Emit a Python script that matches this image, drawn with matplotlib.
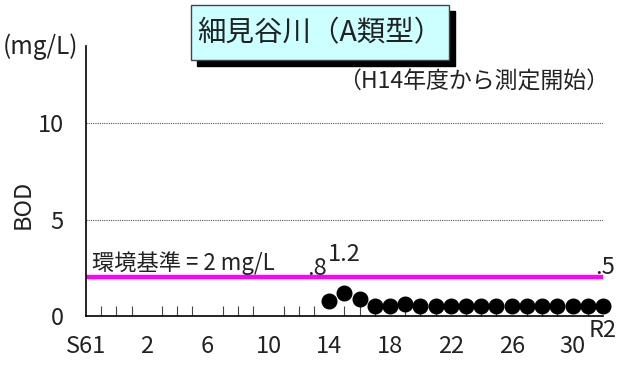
import matplotlib.pyplot as plt
from matplotlib.patches import Rectangle

plt.rcParams['font.family'] = ['Noto Sans CJK JP', 'DejaVu Sans']

years = list(range(2002, 2021))
bod = [0.8, 1.2, 0.9, 0.5, 0.5, 0.6, 0.5, 0.5, 0.5, 0.5, 0.5, 0.5,
       0.5, 0.5, 0.5, 0.5, 0.5, 0.5, 0.5]
standard = 2
label_pos = [1986, 1990, 1994, 1998, 2002, 2006, 2010, 2014, 2018]
label_txt = ["S61", "2", "6", "10", "14", "18", "22", "26", "30"]
point_labels = {2002: ".8", 2003: "1.2", 2020: ".5"}

fig = plt.figure(figsize=(6.19, 3.67), dpi=100)
ax = fig.add_axes([0.139, 0.139, 0.835, 0.736])

ax.plot([1986, 2020], [standard, standard], color="#ff00ff", linewidth=3.2,
        solid_capstyle="butt", zorder=2)
ax.text(1986.4, 2.75, "環境基準 = 2 mg/L", fontsize=16, color="#222222",
        va="center", ha="left")

ax.plot(years, bod, "o", color="black", markersize=10.5, clip_on=False, zorder=3)

offsets = {2002: (-12, 32), 2003: (0, 38), 2020: (2, 39)}
for yr, txt in point_labels.items():
    ax.annotate(txt, (yr, bod[years.index(yr)]), textcoords="offset pixels",
                xytext=offsets[yr], ha="center", va="center", fontsize=17,
                color="#222222")

ax.set_xlim(1986, 2020)
ax.set_ylim(0, 14)
ax.set_yticks([0, 5, 10])
ax.tick_params(axis="y", length=0, pad=16, labelsize=17, labelcolor="#222222")
for y in [5, 10]:
    ax.axhline(y, color="#555555", linewidth=0.8, linestyle=(0, (1, 1)), zorder=1)

ax.set_xticks(label_pos)
ax.set_xticklabels(label_txt)
ax.set_xticks(range(1987, 2020), minor=True)
ax.tick_params(axis="x", which="major", length=0, pad=14, labelsize=17,
               labelcolor="#222222")
ax.tick_params(axis="x", which="minor", direction="in", length=7, width=0.8,
               color="#444444")
ax.text(2020, -0.75, "R2", fontsize=17, color="#222222", ha="center", va="center")

for s in ["top", "right"]:
    ax.spines[s].set_visible(False)
ax.spines["left"].set_linewidth(1.2)
ax.spines["bottom"].set_linewidth(1.2)

ax.set_ylabel("BOD", fontsize=17, color="#222222")
ax.yaxis.set_label_coords(-0.10, 0.415)
fig.text(0.005, 0.872, "(mg/L)", fontsize=17.5, color="#222222", va="center", ha="left")

# title box with shadow
fig.patches.append(Rectangle((197 / 619, 1 - 66 / 367), 258 / 619, 55 / 367,
                             transform=fig.transFigure, facecolor="black",
                             edgecolor="black", zorder=1))
fig.patches.append(Rectangle((191 / 619, 1 - 60 / 367), 258 / 619, 55 / 367,
                             transform=fig.transFigure, facecolor="#ccffff",
                             edgecolor="#444444", linewidth=1, zorder=2))
fig.text(320 / 619, 1 - 33 / 367, "細見谷川（A類型）", fontsize=20.5, color="#222222",
         ha="center", va="center", zorder=3)
fig.text(474 / 619, 1 - 82 / 367, "（H14年度から測定開始）", fontsize=16.5,
         color="#222222", ha="center", va="center")

fig.savefig("out.png", dpi=100)
